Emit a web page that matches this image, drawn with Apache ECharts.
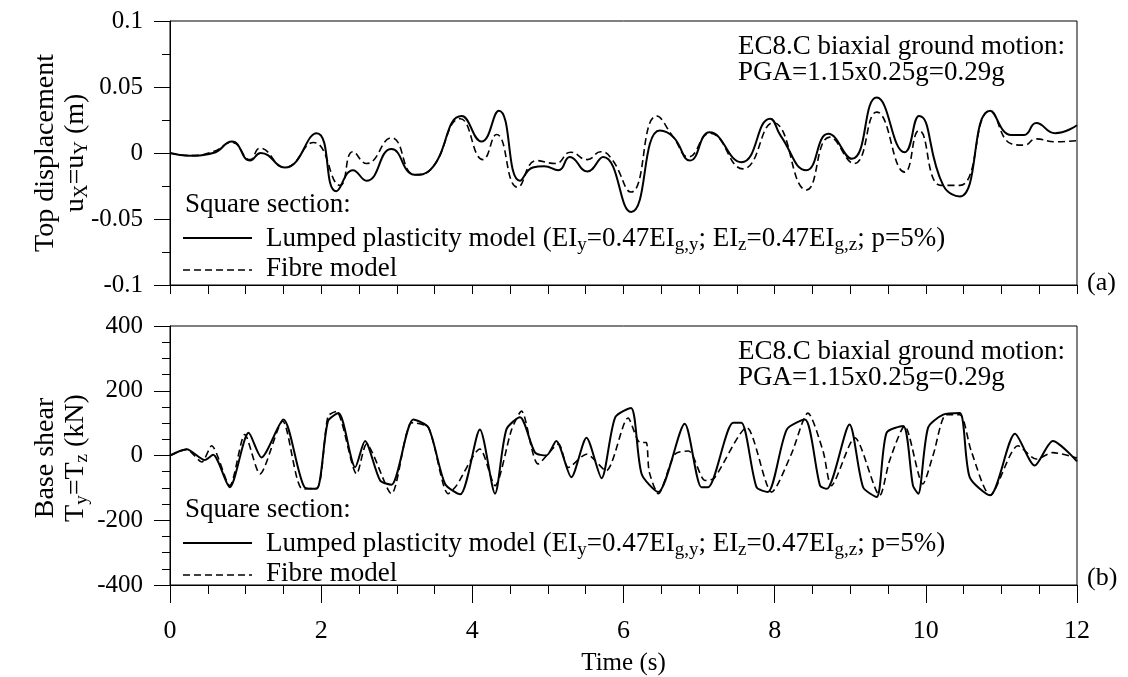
<!DOCTYPE html>
<html>
<head>
  <meta charset="utf-8">
  <script src="https://cdn.jsdelivr.net/npm/echarts@6/dist/echarts.min.js"></script>
  <style>
    body { margin: 0; background: #fff; }
    #main { width: 1128px; height: 677px; }
  </style>
</head>
<body>
  <div id="main"></div>
  <script>
    // time ticks (s)
    var timeTicks = [0, 2, 4, 6, 8, 10, 12];
    var dispTicks = [-0.1, -0.05, 0, 0.05, 0.1];
    var shearTicks = [-400, -200, 0, 200, 400];

    // (a) top displacement, m
    var dispLumped = [[0,0],[0.26,-0.002],[0.57,0],[0.82,0.0087],[1.06,-0.0057],[1.2,0],[1.52,-0.011],[1.94,0.015],
      [2.2,-0.029],[2.42,-0.013],[2.6,-0.021],[2.93,0.003],[3.24,-0.0165],[3.44,-0.013],[3.86,0.028],[4.12,0.0087],
      [4.35,0.032],[4.63,-0.021],[4.8,-0.011],[4.95,-0.01],[5.14,-0.013],[5.29,-0.003],[5.52,-0.014],[5.73,-0.003],
      [6.1,-0.0447],[6.48,0.017],[6.66,0.012],[6.88,-0.0057],[7.14,0.0157],[7.56,-0.007],[7.94,0.026],[8.08,0.013],
      [8.42,-0.013],[8.71,0.0145],[9.02,-0.0044],[9.35,0.042],[9.72,0.0006],[9.91,0.028],[10.23,-0.0245],[10.45,-0.033],
      [10.85,0.032],[11.13,0.0137],[11.3,0.0137],[11.46,0.0228],[11.71,0.015],[12,0.021]];
    var dispFibre = [[0,0],[0.26,-0.002],[0.57,0.001],[0.82,0.008],[1.06,-0.005],[1.19,0.0036],[1.52,-0.011],[1.9,0.008],
      [2.25,-0.0245],[2.42,0.001],[2.6,-0.008],[2.93,0.0115],[3.24,-0.0165],[3.44,-0.013],[3.84,0.026],[4.14,-0.005],
      [4.32,0.014],[4.6,-0.026],[4.85,-0.0057],[5.1,-0.008],[5.3,0.0006],[5.52,-0.005],[5.7,0.001],[5.85,-0.005],
      [6.1,-0.0296],[6.44,0.028],[6.66,0.012],[6.86,-0.003],[7.14,0.015],[7.58,-0.012],[7.98,0.023],[8.42,-0.028],
      [8.73,0.012],[9.05,-0.008],[9.35,0.031],[9.72,-0.0145],[9.91,0.017],[10.2,-0.0245],[10.45,-0.0245],[10.85,0.032],
      [11.13,0.007],[11.3,0.006],[11.46,0.0107],[11.71,0.0085],[12,0.0094]];

    // (b) base shear, kN
    var shearLumped = [[0,0],[0.22,19],[0.46,-14],[0.57,2],[0.79,-98],[1.04,70],[1.21,-6],[1.5,111],[1.78,-98],[1.94,-103],
      [2.09,106],[2.23,131],[2.45,-36],[2.58,45],[2.78,-77],[2.93,-90],[3.22,111],[3.42,86],[3.64,-88],[3.84,-120],
      [4.1,80],[4.3,-118],[4.45,80],[4.63,118],[4.83,9],[4.98,0],[5.11,45],[5.31,-67],[5.51,55],[5.71,-70],[5.89,118],
      [6.1,147],[6.24,-57],[6.46,-113],[6.81,98],[7.03,-98],[7.12,-98],[7.45,101],[7.56,101],[7.76,-98],[7.91,-113],
      [8.16,80],[8.4,111],[8.6,-93],[8.69,-103],[8.99,96],[9.17,-98],[9.35,-128],[9.48,70],[9.7,91],[9.83,-93],[9.9,-118],
      [10.03,86],[10.23,126],[10.45,131],[10.58,-67],[10.85,-123],[11.18,67],[11.44,-31],[11.68,45],[12,-18]];
    var shearFibre = [[0,0],[0.22,19],[0.42,-20],[0.55,30],[0.79,-93],[0.99,65],[1.19,-57],[1.49,106],[1.75,-103],[1.95,-100],
      [2.09,121],[2.2,136],[2.47,-57],[2.6,35],[2.93,-118],[3.2,101],[3.42,86],[3.68,-118],[3.79,-93],[4.1,20],[4.3,-93],
      [4.52,80],[4.65,137],[4.87,-26],[5.14,35],[5.27,-37],[5.51,4],[5.77,-47],[6.06,116],[6.22,40],[6.3,40],[6.34,-50],
      [6.46,-118],[6.68,4],[6.86,14],[7.08,-77],[7.2,-70],[7.63,86],[7.96,-113],[8.22,4],[8.44,131],[8.64,14],[8.75,-93],
      [9.06,55],[9.39,-123],[9.52,-16],[9.72,91],[9.96,-88],[10.1,4],[10.27,126],[10.45,126],[10.6,14],[10.85,-123],
      [11.22,30],[11.46,-11],[11.68,9],[12,-8]];

    var FONT = 'Liberation Serif';
    var chart = echarts.init(document.getElementById('main'));

    var richTxt = { s: { fontSize: 19, fontFamily: FONT, padding: [13, 0, 0, 0] } };

    function xAxis(idx, labels) {
      return {
        type: 'value', gridIndex: idx, min: timeTicks[0], max: timeTicks[timeTicks.length - 1],
        interval: timeTicks[1] - timeTicks[0],
        axisLine: { onZero: false, lineStyle: { color: '#000', width: 1 } },
        axisTick: { length: labels ? 18 : 9, lineStyle: { color: '#000' } },
        minorTick: { show: true, splitNumber: 4, length: 9, lineStyle: { color: '#000' } },
        splitLine: { show: false },
        axisLabel: { show: labels, color: '#000', fontFamily: FONT, fontSize: 26, margin: 33 },
        name: labels ? 'Time (s)' : '', nameLocation: 'middle', nameGap: 66,
        nameTextStyle: { color: '#000', fontFamily: FONT, fontSize: 25 }
      };
    }
    function yAxis(idx, ticks, minorSplit) {
      return {
        type: 'value', gridIndex: idx, min: ticks[0], max: ticks[ticks.length - 1], interval: ticks[1] - ticks[0],
        axisLine: { show: true, onZero: false, lineStyle: { color: '#000', width: 1 } },
        axisTick: { show: true, length: 16, lineStyle: { color: '#000' } },
        minorTick: { show: true, splitNumber: minorSplit, length: 8, lineStyle: { color: '#000' } },
        splitLine: { show: false },
        axisLabel: { color: '#000', fontFamily: FONT, fontSize: 25, margin: 27 }
      };
    }
    function line(name, data, xi, dashed, smooth) {
      return {
        name: name, type: 'line', xAxisIndex: xi, yAxisIndex: xi, data: data, smooth: smooth,
        showSymbol: false, animation: false,
        lineStyle: { color: '#000', width: dashed ? 1.6 : 2, type: dashed ? [7, 4] : 'solid' }
      };
    }
    function txt(x, y, text, size, extra) {
      return {
        type: 'text', x: x, y: y, silent: true,
        style: Object.assign({ text: text, fill: '#000', font: size + 'px "' + FONT + '"',
          align: 'left', verticalAlign: 'middle', rich: richTxt }, extra || {})
      };
    }
    function panelText(dy) {
      return [
        txt(185, 205 + dy, 'Square section:', 27),
        { type: 'line', silent: true, shape: { x1: 183, y1: 238 + dy, x2: 252, y2: 238 + dy }, style: { stroke: '#000', lineWidth: 2 } },
        txt(266, 239 + dy, 'Lumped plasticity model (EI{s|y}=0.47EI{s|g,y}; EI{s|z}=0.47EI{s|g,z}; p=5%)', 27),
        { type: 'line', silent: true, shape: { x1: 183, y1: 270 + dy, x2: 252, y2: 270 + dy }, style: { stroke: '#000', lineWidth: 1.6, lineDash: [7, 4] } },
        txt(266, 269 + dy, 'Fibre model', 27),
        txt(738, 47 + dy, 'EC8.C biaxial ground motion:', 27),
        txt(738, 73 + dy, 'PGA=1.15x0.25g=0.29g', 27)
      ];
    }
    function yTitle(x, y, text, size) {
      var t = txt(x, y, text, size, { align: 'center' });
      t.rotation = Math.PI / 2;
      return t;
    }

    var graphics = [].concat(
      panelText(0), panelText(305),
      [
        txt(1087, 283, '(a)', 26),
        txt(1087, 578, '(b)', 26),
        yTitle(46, 153, 'Top displacement', 28),
        yTitle(76, 153, 'u{s|X}=u{s|Y} (m)', 28),
        yTitle(46, 458, 'Base shear', 28),
        yTitle(76, 458, 'T{s|y}=T{s|z} (kN)', 28)
      ]
    );

    var option = {
      backgroundColor: '#fff',
      animation: false,
      grid: [
        { left: 170, top: 21, width: 907, height: 264, show: true, borderColor: '#000', borderWidth: 1 },
        { left: 170, top: 326, width: 907, height: 264, show: true, borderColor: '#000', borderWidth: 1 }
      ],
      xAxis: [xAxis(0, false), xAxis(1, true)],
      yAxis: [yAxis(0, dispTicks, 2), yAxis(1, shearTicks, 4)],
      series: [
        line('Lumped plasticity model', dispLumped, 0, false, 0.5),
        line('Fibre model', dispFibre, 0, true, 0.5),
        line('Lumped plasticity model', shearLumped, 1, false, 0.25),
        line('Fibre model', shearFibre, 1, true, 0.25)
      ],
      graphic: graphics
    };
    chart.setOption(option);
  </script>
</body>
</html>
